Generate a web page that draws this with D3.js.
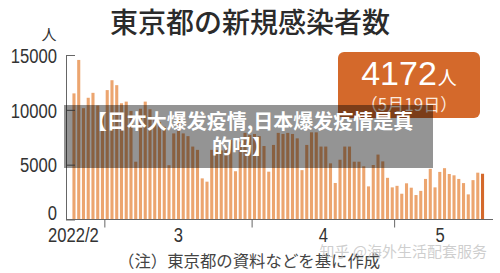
<!DOCTYPE html>
<html>
<head>
<meta charset="utf-8">
<script src="https://cdn.jsdelivr.net/npm/d3@7"></script>
<style>
  html, body { margin: 0; padding: 0; background: #fff; }
  svg { display: block; }
  .num { font-family: "Liberation Sans", Arial, sans-serif; }
  .jp  { font-family: "Noto Sans CJK JP", sans-serif; }
  .sc  { font-family: "Noto Sans CJK SC", sans-serif; }
</style>
</head>
<body>
<div id="chart"></div>
<script>
// ---- data ----
const firstDay = "2022-02-22";
const lastDay = "2022-05-19";
const cases = [
  11500, 14550, 10150, 11100, 11550, 10400, 9600,            // Feb 22-28
  11800, 12700, 12250, 10600, 10750, 9900, 5270, 10100, 10750, 10050,
  9250, 8900, 8450, 4950, 7850, 9500, 7850, 7600, 6650, 6350,
  3750, 3450, 6350, 6350, 6300, 6650, 7250, 4400, 7100, 7900, 7700, // March
  7800, 7600, 6700, 4360, 6800, 7900, 7800, 7900, 7800, 7400,
  4500, 6800, 7950, 7950, 6650, 6650, 5120, 3330, 5450, 6650,
  6650, 5270, 5270, 4850, 3020, 4970, 5920, 5300, 3800, 2930,      // April
  3070, 2350, 3300, 2900, 2230, 2610, 3700, 4620, 2930, 4340,
  4680, 4150, 4030, 3700, 3320, 2290, 3590, 4270, 4172             // May 1-19
];
const yTicks = [0, 5000, 10000, 15000];
const monthStarts = ["2022-03-01", "2022-04-01", "2022-05-01"];
const monthLabels = ["2022/2", "3", "4", "5"];

const title = "東京都の新規感染者数";
const unitLabel = "人";
const calloutValue = "4172";
const calloutDate = "（5月19日）";
const note = "（注）東京都の資料などを基に作成";
const bannerLines = ["【日本大爆发疫情,日本爆发疫情是真", "的吗】"];
const watermark = "知乎 @海外生活配套服务";

// ---- setup ----
const width = 500, height = 273;
const parse = d3.utcParse("%Y-%m-%d");
const fmt = d3.utcFormat("%Y-%m-%d");
const days = d3.utcDay.range(parse(firstDay), d3.utcDay.offset(parse(lastDay), 1)).map(fmt);
const data = days.map((d, i) => ({ day: d, value: cases[i] }));

const svg = d3.select("#chart").append("svg")
  .attr("width", width)
  .attr("height", height)
  .attr("viewBox", `0 0 ${width} ${height}`);

const axisX0 = 66, axisX1 = 493;

const x = d3.scaleBand()
  .domain(days)
  .range([71.6, 484.9])
  .paddingInner(0.35)
  .paddingOuter(0.175);

const y = d3.scaleLinear()
  .domain([0, 15000])
  .range([219.5, 55]);

// squeeze digits a little, the original uses a narrow face
function narrow(sel, k) {
  sel.each(function() {
    const len = this.getComputedTextLength();
    d3.select(this).attr("textLength", len * k).attr("lengthAdjust", "spacingAndGlyphs");
  });
}

// ---- title ----
svg.append("text")
  .attr("class", "jp")
  .attr("x", 250).attr("y", 33)
  .attr("text-anchor", "middle")
  .attr("font-size", 28)
  .attr("font-weight", 500)
  .attr("fill", "#2b2b2b")
  .text(title);

svg.append("text")
  .attr("class", "jp")
  .attr("x", 49).attr("y", 40)
  .attr("text-anchor", "middle")
  .attr("font-size", 15)
  .attr("fill", "#333")
  .text(unitLabel);

// ---- bars ----
const last = days[days.length - 1];
svg.append("g")
  .selectAll("rect")
  .data(data)
  .join("rect")
  .attr("x", d => x(d.day))
  .attr("width", x.bandwidth())
  .attr("y", d => y(d.value))
  .attr("height", d => y(0) - y(d.value))
  .attr("fill", d => d.day === last ? "#d4692b" : "#eca56f");

// ---- y axis ----
const gy = svg.append("g")
  .attr("transform", `translate(${axisX0},0)`)
  .call(d3.axisLeft(y).tickValues(yTicks).tickFormat(d => d)
    .tickSizeInner(-9).tickSizeOuter(0).tickPadding(9));
gy.select(".domain").attr("stroke", "#666");
gy.selectAll(".tick line").attr("stroke", "#666");
gy.selectAll(".tick text")
  .attr("class", "num")
  .attr("font-size", 20)
  .attr("fill", "#333")
  .attr("dy", d => d === 0 ? "0.0em" : "0.36em")
  .call(narrow, 0.83);

// ---- x axis ----
svg.append("line")
  .attr("x1", axisX0).attr("x2", axisX1)
  .attr("y1", y(0)).attr("y2", y(0))
  .attr("stroke", "#666");

const step = x.step();
const boundary = d => x(d) - step * 0.175;
svg.append("g")
  .selectAll("line")
  .data(monthStarts)
  .join("line")
  .attr("x1", boundary).attr("x2", boundary)
  .attr("y1", y(0)).attr("y2", y(0) + 8)
  .attr("stroke", "#666");

// month label positions: middle of the visible days of each month
const edges = [axisX0 + 2].concat(monthStarts.map(boundary), [x(last) + step]);
const labelX = monthLabels.map((m, i) => i === 0 ? edges[1] - 6 : (edges[i] + edges[i + 1]) / 2);
svg.append("g")
  .selectAll("text")
  .data(monthLabels)
  .join("text")
  .attr("class", "num")
  .attr("x", (d, i) => labelX[i])
  .attr("y", 242)
  .attr("text-anchor", (d, i) => i === 0 ? "end" : "middle")
  .attr("font-size", 20)
  .attr("fill", "#333")
  .text(d => d)
  .call(narrow, 0.83);

// ---- callout box ----
const box = svg.append("g");
box.append("rect")
  .attr("x", 338).attr("y", 52)
  .attr("width", 142).attr("height", 66)
  .attr("rx", 6)
  .attr("fill", "#d4692b");
const big = box.append("text")
  .attr("x", 409).attr("y", 85)
  .attr("text-anchor", "middle")
  .attr("fill", "#fff");
big.append("tspan").attr("class", "num").attr("font-size", 34).text(calloutValue);
big.append("tspan").attr("class", "jp").attr("font-size", 19).attr("dx", 1).text(unitLabel);
box.append("text")
  .attr("class", "jp")
  .attr("x", 409).attr("y", 111)
  .attr("text-anchor", "middle")
  .attr("font-size", 17)
  .attr("fill", "#fbeadf")
  .text(calloutDate);

// ---- note ----
svg.append("text")
  .attr("class", "jp")
  .attr("x", 118).attr("y", 267)
  .attr("font-size", 16.4)
  .attr("fill", "#444")
  .text(note);

// ---- banner over the chart ----
svg.append("rect")
  .attr("x", 64).attr("y", 105)
  .attr("width", 369).attr("height", 63)
  .attr("fill", "rgba(0,0,0,0.42)");
svg.append("text")
  .attr("class", "sc")
  .attr("x", 250).attr("y", 129)
  .attr("text-anchor", "middle")
  .attr("font-size", 20)
  .attr("font-weight", 700)
  .attr("fill", "#fff")
  .text(bannerLines[0]);
svg.append("text")
  .attr("class", "sc")
  .attr("x", 212).attr("y", 154)
  .attr("font-size", 20)
  .attr("font-weight", 700)
  .attr("fill", "#fff")
  .text(bannerLines[1]);

// ---- watermark ----
svg.append("text")
  .attr("class", "sc")
  .attr("x", 487).attr("y", 257)
  .attr("text-anchor", "end")
  .attr("font-size", 15)
  .attr("fill", "rgba(190,190,190,0.75)")
  .text(watermark);
</script>
</body>
</html>
